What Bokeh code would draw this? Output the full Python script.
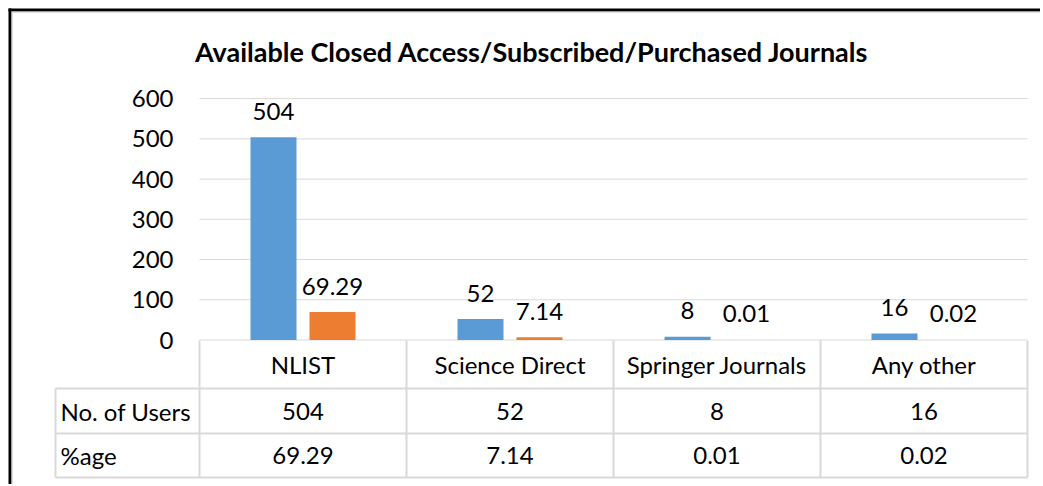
from bokeh.plotting import figure
from bokeh.models import Range1d
from bokeh.core.properties import value
from bokeh.embed import file_html
from bokeh.resources import INLINE

# ---------------- data ----------------
title = "Available Closed Access/Subscribed/Purchased Journals"
categories = ["NLIST", "Science Direct", "Springer Journals", "Any other"]
users = [504, 52, 8, 16]
percent = [69.29, 7.14, 0.01, 0.02]
user_labels = ["504", "52", "8", "16"]
percent_labels = ["69.29", "7.14", "0.01", "0.02"]
row_names = ["No. of Users", "%age"]
y_ticks = [0, 100, 200, 300, 400, 500, 600]
y_tick_labels = ["0", "100", "200", "300", "400", "500", "600"]

# ---------------- layout (canvas pixels) ----------------
W, H = 1040, 484
PLOT_LEFT = 199.0
COL_W = 207.0
ZERO_Y = 339.5
PPU = 241.4 / 600.0
FONT = "Lato"
FS = "24px"
BLUE = "#5B9BD5"
ORANGE = "#ED7D31"
GRID = "#D9D9D9"


def dx(cx):
    return (cx - PLOT_LEFT) / COL_W


def dy(cy):
    return (ZERO_Y - cy) / PPU


p = figure(width=W, height=H, min_border=0, x_axis_location=None,
           y_axis_location=None, toolbar_location=None, output_backend="svg",
           x_range=Range1d(dx(0), dx(W)), y_range=Range1d(dy(H), dy(0)),
           outline_line_color=None, background_fill_color="white",
           border_fill_color="white")
p.grid.visible = False

n = len(categories)
BAR_W = 46.0 / COL_W
OFF = 29.5 / COL_W

# gridlines
p.segment(x0=[0] * len(y_ticks), x1=[n] * len(y_ticks), y0=y_ticks, y1=y_ticks,
          line_color=GRID, line_width=1)

# bars
xb = [i + 0.5 - OFF for i in range(n)]
xo = [i + 0.5 + OFF for i in range(n)]
p.vbar(x=xb, top=users, bottom=0, width=BAR_W, fill_color=BLUE, line_color=None)
p.vbar(x=xo, top=percent, bottom=0, width=BAR_W, fill_color=ORANGE, line_color=None)

# data labels
p.text(x=xb, y=users, text=user_labels, text_align="center", text_baseline="middle",
       y_offset=-26, text_font=value(FONT), text_font_size=FS, text_color="black")
p.text(x=xo, y=percent, text=percent_labels, text_align="center", text_baseline="middle",
       y_offset=-26, text_font=value(FONT), text_font_size=FS, text_color="black")

# y tick labels
p.text(x=[0] * len(y_ticks), y=y_ticks, text=y_tick_labels, text_align="right",
       text_baseline="middle", x_offset=-26, text_font=value(FONT),
       text_font_size=FS, text_color="black")

# data table
T_TOP, R1, R2, R3 = 340.0, 388.0, 433.0, 477.0
HDR_LEFT = 55.0
hx0 = [dx(HDR_LEFT)] * 3
p.segment(x0=hx0, x1=[n] * 3, y0=[dy(R1), dy(R2), dy(R3)], y1=[dy(R1), dy(R2), dy(R3)],
          line_color=GRID, line_width=2)
vx = list(range(n + 1))
p.segment(x0=vx, x1=vx, y0=[dy(T_TOP)] * (n + 1), y1=[dy(R3)] * (n + 1),
          line_color=GRID, line_width=2)
p.segment(x0=[dx(HDR_LEFT)], x1=[dx(HDR_LEFT)], y0=[dy(R1)], y1=[dy(R3)],
          line_color=GRID, line_width=2)

xc = [i + 0.5 for i in range(n)]
p.text(x=xc, y=[dy((T_TOP + R1) / 2)] * n, text=categories, text_align="center",
       text_baseline="middle", text_font=value(FONT), text_font_size=FS, text_color="black")
p.text(x=xc, y=[dy((R1 + R2) / 2)] * n, text=user_labels, text_align="center",
       text_baseline="middle", text_font=value(FONT), text_font_size=FS, text_color="black")
p.text(x=xc, y=[dy((R2 + R3) / 2)] * n, text=percent_labels, text_align="center",
       text_baseline="middle", text_font=value(FONT), text_font_size=FS, text_color="black")
p.text(x=[dx(HDR_LEFT)] * 2, y=[dy((R1 + R2) / 2), dy((R2 + R3) / 2)], text=row_names,
       text_align="left", text_baseline="middle", x_offset=5, text_font=value(FONT),
       text_font_size=FS, text_color="black")

# title
p.text(x=[dx(531.5)], y=[dy(51)], text=[title], text_align="center", text_baseline="middle",
       text_font=value(FONT), text_font_size="27px", text_font_style="bold", text_color="black")

# chart border (top and left edges visible)
p.segment(x0=[dx(8), dx(9.5)], x1=[dx(W), dx(9.5)], y0=[dy(9.5), dy(8)], y1=[dy(9.5), dy(H)],
          line_color="black", line_width=3)
p.segment(x0=[dx(11), dx(11.5)], x1=[dx(W), dx(11.5)], y0=[dy(11.5), dy(11)], y1=[dy(11.5), dy(H)],
          line_color="#BFBFBF", line_width=1)

open("out.html", "w").write(file_html(p, INLINE))
